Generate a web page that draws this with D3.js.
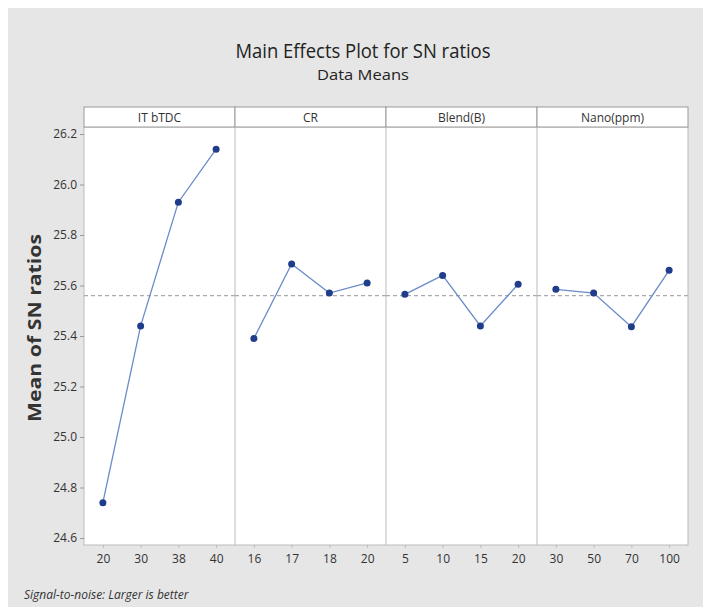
<!DOCTYPE html>
<html><head><meta charset="utf-8">
<script src="https://cdn.jsdelivr.net/npm/d3@7"></script>
<style>
html,body{margin:0;padding:0;background:#fff;}
text{font-family:"Open Sans",sans-serif;fill:#333;}
</style></head>
<body>
<script>
const factors = ["IT bTDC", "CR", "Blend(B)", "Nano(ppm)"];
const levelsIT = ["20", "30", "38", "40"];
const levelsCR = ["16", "17", "18", "20"];
const levelsBlend = ["5", "10", "15", "20"];
const levelsNano = ["30", "50", "70", "100"];
const meansIT = [24.74, 25.44, 25.93, 26.14];
const meansCR = [25.39, 25.685, 25.57, 25.61];
const meansBlend = [25.565, 25.64, 25.44, 25.605];
const meansNano = [25.585, 25.57, 25.437, 25.66];
const overallMean = 25.56;
const yTicks = [24.6, 24.8, 25.0, 25.2, 25.4, 25.6, 25.8, 26.0, 26.2];

const levels = [levelsIT, levelsCR, levelsBlend, levelsNano];
const means = [meansIT, meansCR, meansBlend, meansNano];

const W = 712, H = 615;
const svg = d3.select("body").append("svg").attr("width", W).attr("height", H);
svg.append("rect").attr("x", 8).attr("y", 8).attr("width", 695).attr("height", 599).attr("fill", "#e6e6e6");

const plotL = 84, plotR = 688, plotT = 127, plotB = 545, stripT = 107;
const y = d3.scaleLinear().domain([24.6, 26.2]).range([538, 134]);
const panelW = (plotR - plotL) / factors.length;

svg.append("text").attr("x", 363).attr("y", 58).attr("text-anchor", "middle")
  .attr("textLength", 255).attr("lengthAdjust", "spacingAndGlyphs")
  .style("font-size", "20px").style("fill", "#222").text("Main Effects Plot for SN ratios");
svg.append("text").attr("x", 363).attr("y", 80).attr("text-anchor", "middle")
  .attr("textLength", 92).attr("lengthAdjust", "spacingAndGlyphs")
  .style("font-size", "15px").style("fill", "#222").text("Data Means");

// plot area
svg.append("rect").attr("x", plotL).attr("y", plotT).attr("width", plotR - plotL).attr("height", plotB - plotT)
  .attr("fill", "#fff").attr("stroke", "#bbb");

// y axis
const yAxis = d3.axisLeft(y).tickValues(yTicks).tickFormat(d3.format(".1f")).tickSize(4).tickPadding(3);
const ya = svg.append("g").attr("transform", `translate(${plotL},0)`).call(yAxis);
ya.select(".domain").remove();
ya.selectAll("line").attr("stroke", "#999");
ya.selectAll("text").style("font-size", "12px").style("fill", "#333");

svg.append("text").attr("transform", "translate(41,328) rotate(-90)").attr("text-anchor", "middle")
  .attr("textLength", 188).attr("lengthAdjust", "spacingAndGlyphs")
  .style("font-weight", "bold").style("font-size", "18px").style("fill", "#333")
  .text("Mean of SN ratios");

const line = d3.line();
factors.forEach((f, i) => {
  const x0 = plotL + i * panelW;
  const x = d3.scalePoint().domain(levels[i]).range([x0, x0 + panelW]).padding(0.5);
  // strip
  svg.append("rect").attr("x", x0).attr("y", stripT).attr("width", panelW).attr("height", plotT - stripT)
    .attr("fill", "#fff").attr("stroke", "#999");
  svg.append("text").attr("x", x0 + panelW / 2).attr("y", stripT + 14.5).attr("text-anchor", "middle")
    .style("font-size", "12px").text(f);
  if (i > 0) {
    svg.append("line").attr("x1", x0).attr("x2", x0).attr("y1", plotT).attr("y2", plotB).attr("stroke", "#bbb");
  }
  // x axis
  const xa = svg.append("g").attr("transform", `translate(0,${plotB})`)
    .call(d3.axisBottom(x).tickSize(3).tickPadding(6));
  xa.select(".domain").remove();
  xa.selectAll("line").attr("stroke", "#bbb");
  xa.selectAll("text").style("font-size", "12px").style("fill", "#333");
  // reference line
  svg.append("line").attr("x1", x0).attr("x2", x0 + panelW).attr("y1", y(overallMean)).attr("y2", y(overallMean))
    .attr("stroke", "#aaa").attr("stroke-dasharray", "4,3").attr("stroke-width", 1.2);
  const pts = levels[i].map((l, j) => [x(l), y(means[i][j])]);
  svg.append("path").attr("d", line(pts)).attr("fill", "none").attr("stroke", "#6a8cc8").attr("stroke-width", 1.3);
  svg.selectAll(null).data(pts).enter().append("circle")
    .attr("cx", d => d[0]).attr("cy", d => d[1]).attr("r", 3.5).attr("fill", "#1f3d8a");
});

svg.append("text").attr("x", 24).attr("y", 599).style("font-style", "italic").style("font-size", "12px")
  .text("Signal-to-noise: Larger is better");
</script>
</body></html>
